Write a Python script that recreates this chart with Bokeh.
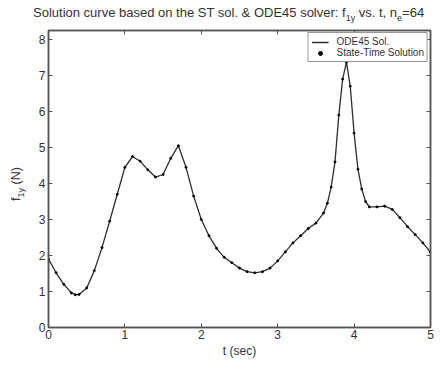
from bokeh.plotting import figure
from bokeh.models import Range1d, LinearAxis, FixedTicker, Legend, LegendItem, Div
from bokeh.layouts import column, row
from bokeh.embed import file_html
from bokeh.resources import INLINE

# Data (t in sec, f_1y in N)
t_vals = [0.0, 0.1, 0.2, 0.3, 0.35, 0.4, 0.5, 0.6, 0.7, 0.8, 0.9, 1.0, 1.1, 1.2, 1.3, 1.4,
          1.5, 1.6, 1.7, 1.8, 1.9, 2.0, 2.1, 2.2, 2.3, 2.4, 2.5, 2.6, 2.7, 2.8, 2.9, 3.0,
          3.1, 3.2, 3.3, 3.4, 3.5, 3.6, 3.65, 3.7, 3.75, 3.8, 3.85, 3.9, 3.95, 4.0, 4.05,
          4.1, 4.15, 4.2, 4.3, 4.4, 4.5, 4.6, 4.7, 4.8, 4.9, 5.0]
f_vals = [1.90, 1.52, 1.20, 0.96, 0.91, 0.92, 1.10, 1.58, 2.22, 2.95, 3.70, 4.45, 4.75, 4.62,
          4.38, 4.18, 4.25, 4.70, 5.05, 4.45, 3.65, 3.00, 2.55, 2.20, 1.95, 1.80, 1.65, 1.55,
          1.52, 1.55, 1.65, 1.85, 2.10, 2.35, 2.55, 2.75, 2.90, 3.18, 3.45, 3.90, 4.60, 5.90,
          6.90, 7.37, 6.70, 5.40, 4.40, 3.85, 3.50, 3.35, 3.35, 3.37, 3.28, 3.05, 2.80, 2.58,
          2.35, 2.09]
x_ticks = [0, 1, 2, 3, 4, 5]
y_ticks = [0, 1, 2, 3, 4, 5, 6, 7, 8]

FONT = "Liberation Sans"
TXT = "#333333"
FRAME = "#555555"

p = figure(width=414, height=341, output_backend="svg", toolbar_location=None,
           x_range=Range1d(0, 5), y_range=Range1d(0, 8.25),
           min_border_left=22, min_border_right=10, min_border_top=4, min_border_bottom=40,
           background_fill_color="white", border_fill_color="white", margin=0)
p.grid.visible = False
p.outline_line_color = FRAME
p.outline_line_width = 1.5

def style_axis(ax, ticks, labels=True):
    ax.ticker = FixedTicker(ticks=ticks)
    ax.axis_line_color = FRAME
    ax.axis_line_width = 1.5
    ax.major_tick_in = 4
    ax.major_tick_out = 0
    ax.minor_tick_line_color = None
    ax.major_tick_line_color = FRAME
    ax.major_label_text_font = FONT
    ax.major_label_text_font_size = "12px"
    ax.major_label_text_color = TXT
    if not labels:
        ax.major_label_overrides = {t: "" for t in ticks}
        ax.major_label_standoff = 0

style_axis(p.xaxis[0], x_ticks)
style_axis(p.yaxis[0], y_ticks)
p.xaxis.major_label_standoff = 2
p.yaxis.major_label_standoff = 3
p.xaxis.axis_label = "t (sec)"
p.xaxis.axis_label_text_font = FONT
p.xaxis.axis_label_text_font_size = "12px"
p.xaxis.axis_label_text_font_style = "normal"
p.xaxis.axis_label_text_color = TXT
p.xaxis.axis_label_standoff = 2

top_ax = LinearAxis()
style_axis(top_ax, x_ticks, labels=False)
p.add_layout(top_ax, "above")
right_ax = LinearAxis()
style_axis(right_ax, y_ticks, labels=False)
p.add_layout(right_ax, "right")

line_r = p.line(t_vals, f_vals, line_color="#2e2e2e", line_width=1.3)
dot_r = p.scatter(t_vals, f_vals, size=2, color="black")

legend = Legend(items=[LegendItem(label="ODE45 Sol.", renderers=[line_r]),
                       LegendItem(label="State-Time Solution", renderers=[dot_r])],
                location="top_right")
legend.label_text_font = FONT
legend.label_text_font_size = "10px"
legend.label_text_color = TXT
legend.border_line_color = "#333333"
legend.border_line_width = 1
legend.margin = 2
legend.padding = 3
legend.spacing = 0
legend.glyph_height = 10
legend.glyph_width = 17
legend.label_height = 10
legend.label_standoff = 8
p.add_layout(legend)

SUB = "font-size:9px; vertical-align:-4px;"
title_div = Div(
    width=440, height=26, margin=0,
    styles={"overflow": "hidden"},
    text=('<div style="font-family:\'Liberation Sans\'; font-size:13px; color:#333333; '
          'white-space:nowrap; padding-left:33px; padding-top:6px; line-height:14px;">'
          'Solution curve based on the ST sol. &amp; ODE45 solver: f'
          f'<sub style="{SUB}">1y</sub> vs. t, n<sub style="{SUB}">e</sub>=64</div>'))

ylab_div = Div(
    width=26, height=341, margin=0,
    text=('<div style="position:relative; width:26px; height:341px;">'
          '<span style="position:absolute; left:18px; top:158px; display:inline-block; '
          'white-space:nowrap; transform:translate(-50%,-50%) rotate(-90deg); '
          'font-family:\'Liberation Sans\'; font-size:12.5px; color:#333333; line-height:14px;">'
          f'f<sub style="{SUB}">1y</sub> (N)</span></div>'))

layout = column(title_div, row(ylab_div, p, spacing=0), spacing=0)

open("out.html", "w").write(file_html(layout, INLINE))
